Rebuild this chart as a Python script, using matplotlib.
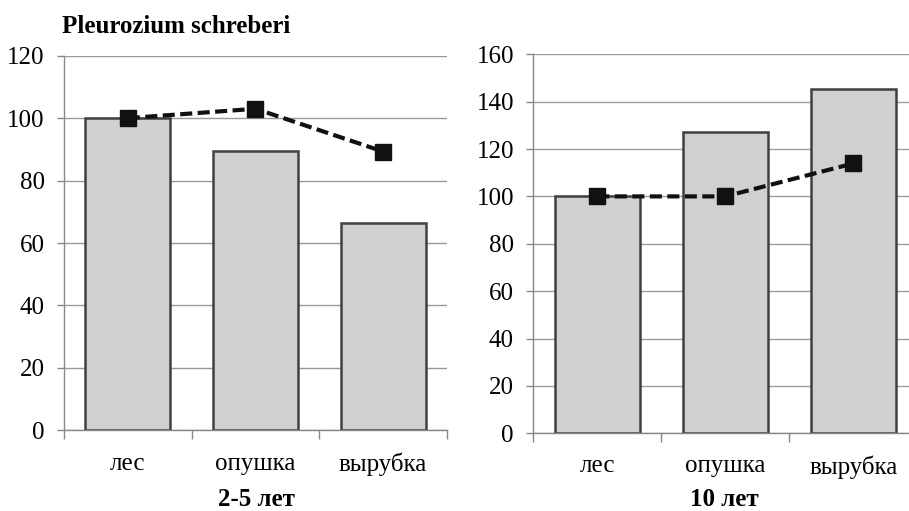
import matplotlib
matplotlib.use("Agg")
import matplotlib.pyplot as plt
import numpy as np

plt.rcParams['font.family'] = ['Liberation Serif', 'DejaVu Serif']

categories = ['лес', 'опушка', 'вырубка']
bars_left = [100, 89.4, 66.3]
line_left = [100, 103, 89.3]
bars_right = [100, 127, 145.3]
line_right = [100, 100, 113.9]
yticks_left = [0, 20, 40, 60, 80, 100, 120]
yticks_right = [0, 20, 40, 60, 80, 100, 120, 140, 160]
title = 'Pleurozium schreberi'
sub_left = '2-5 лет'
sub_right = '10 лет'

fig = plt.figure(figsize=(9.09, 5.11), dpi=100)
ax1 = fig.add_axes([0.0704, 0.1579, 0.4213, 0.7331])
ax2 = fig.add_axes([0.5867, 0.1521, 0.4224, 0.7417])

def draw(ax, bars, line, yticks):
    x = np.arange(len(categories))
    ax.set_axisbelow(True)
    ax.bar(x, bars, width=0.667, color='#d0d0d0', edgecolor='#404040', linewidth=1.8, zorder=2)
    ax.plot(x, line, color='#111111', linestyle=(0, (2.9, 1.3)), linewidth=3.0,
            marker='s', markersize=12, markerfacecolor='#111111', markeredgecolor='#111111', zorder=3)
    ax.set_xlim(-0.5, len(categories) - 0.5)
    ax.set_ylim(yticks[0], yticks[-1])
    ax.set_yticks(yticks)
    ax.set_yticklabels([str(v) for v in yticks], fontsize=18)
    ax.yaxis.grid(True, color='#9a9a9a', linewidth=1.0)
    ax.set_xticks(x)
    ax.set_xticklabels(categories, fontsize=18)
    ax.tick_params(axis='x', which='major', length=0, pad=16)
    ax.set_xticks(np.arange(-0.5, len(categories), 1.0), minor=True)
    ax.tick_params(axis='x', which='minor', length=6.5, width=1.0, color='#888888', direction='out')
    ax.tick_params(axis='y', length=5, width=1.0, color='#888888', pad=9)
    for s in ['top', 'right']:
        ax.spines[s].set_visible(False)
    for s in ['left', 'bottom']:
        ax.spines[s].set_color('#888888')
        ax.spines[s].set_linewidth(1.0)

draw(ax1, bars_left, line_left, yticks_left)
draw(ax2, bars_right, line_right, yticks_right)

fig.text(62 / 909, 1 - 33 / 511, title, fontsize=18, fontweight='bold', ha='left', va='baseline')
fig.text(256 / 909, 1 - 500 / 511, sub_left, fontsize=18, fontweight='bold', ha='center', va='center')
fig.text(724 / 909, 1 - 500 / 511, sub_right, fontsize=18, fontweight='bold', ha='center', va='center')

fig.savefig('out.png', dpi=100)
